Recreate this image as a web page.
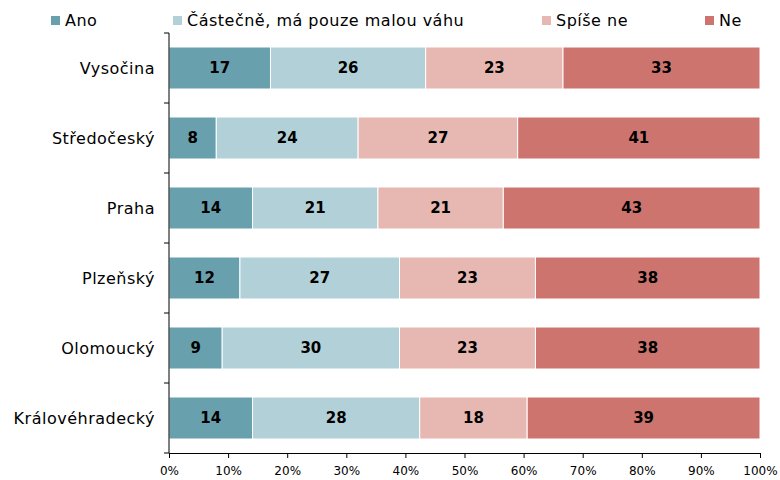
<!DOCTYPE html>
<html>
<head>
<meta charset="utf-8">
<script src="https://cdn.jsdelivr.net/npm/d3@7"></script>
<style>
	body { margin: 0; background: #fff; }
	svg text { font-family: "DejaVu Sans", Verdana, sans-serif; fill: #000; }
	.axis path, .axis line { stroke: #000; }
	.label { font-size: 16px; letter-spacing: 0.5px; }
</style>
</head>
<body>
<script>
const regions = ["Vysočina", "Středočeský", "Praha", "Plzeňský", "Olomoucký", "Královéhradecký"];
const answers = ["Ano", "Částečně, má pouze malou váhu", "Spíše ne", "Ne"];
const ano = [17, 8, 14, 12, 9, 14];
const castecne = [26, 24, 21, 27, 30, 28];
const spiseNe = [23, 27, 21, 23, 23, 18];
const ne = [33, 41, 43, 38, 38, 39];
const xTicks = [0, 0.1, 0.2, 0.3, 0.4, 0.5, 0.6, 0.7, 0.8, 0.9, 1];

const width = 780;
const height = 480;
const margin = { left: 169, right: 20, top: 33, bottom: 27 };

const series = [ano, castecne, spiseNe, ne];
const rows = regions.map((region, i) => {
	const row = { region };
	answers.forEach((a, j) => (row[a] = series[j][i]));
	return row;
});

const svg = d3
	.select("body")
	.append("svg")
	.attr("width", width)
	.attr("height", height);

const x = d3
	.scaleLinear()
	.domain([0, 1])
	.range([margin.left, width - margin.right]);

const y = d3
	.scaleBand()
	.domain(regions)
	.range([margin.top, height - margin.bottom])
	.paddingInner(0.4)
	.paddingOuter(0.2);

const color = d3
	.scaleOrdinal()
	.domain(answers)
	.range(["#68a0ad", "#b1d0d7", "#e7b7b1", "#cd746f"]);

// percent stacked, each row sums to 100%
const stacked = d3.stack().keys(answers).offset(d3.stackOffsetExpand)(rows);

const layers = svg
	.append("g")
	.selectAll("g")
	.data(stacked)
	.join("g")
	.attr("fill", (d) => color(d.key));

layers
	.selectAll("rect")
	.data((d) => d)
	.join("rect")
	.attr("x", (d) => x(d[0]))
	.attr("y", (d) => y(d.data.region))
	.attr("width", (d) => x(d[1]) - x(d[0]))
	.attr("height", y.bandwidth())
	.attr("stroke", "#fff")
	.attr("stroke-width", 1);

layers
	.selectAll("text")
	.data((d) => d.map((v) => ({ v, key: d.key })))
	.join("text")
	.attr("x", (d) => (x(d.v[0]) + x(d.v[1])) / 2)
	.attr("y", (d) => y(d.v.data.region) + y.bandwidth() / 2)
	.attr("dy", "0.36em")
	.attr("text-anchor", "middle")
	.style("font-size", "15px")
	.style("font-weight", "bold")
	.text((d) => d.v.data[d.key]);

// y axis with ticks on band boundaries
const yAxis = svg
	.append("g")
	.attr("class", "axis")
	.attr("transform", `translate(${margin.left},0)`);

yAxis
	.append("line")
	.attr("y1", margin.top)
	.attr("y2", height - margin.bottom);

yAxis
	.selectAll(".tick")
	.data(d3.range(regions.length + 1))
	.join("line")
	.attr("x1", -5)
	.attr("x2", 0)
	.attr("y1", (i) => margin.top + i * y.step())
	.attr("y2", (i) => margin.top + i * y.step());

yAxis
	.selectAll("text")
	.data(regions)
	.join("text")
	.attr("class", "label")
	.attr("x", -14)
	.attr("y", (d) => y(d) + y.bandwidth() / 2)
	.attr("dy", "0.36em")
	.attr("text-anchor", "end")
	.text((d) => d);

svg
	.append("g")
	.attr("class", "axis")
	.attr("transform", `translate(0,${height - margin.bottom})`)
	.call(
		d3
			.axisBottom(x)
			.tickValues(xTicks)
			.tickFormat(d3.format(".0%"))
			.tickSize(5)
			.tickSizeOuter(0)
	)
	.call((g) => g.selectAll("text").style("font-size", "12px").attr("dy", "1.2em"));

// legend
const legendX = [51, 173, 542, 705];
const legend = svg
	.append("g")
	.selectAll("g")
	.data(answers)
	.join("g")
	.attr("transform", (d, i) => `translate(${legendX[i]},16)`);

legend
	.append("rect")
	.attr("width", 9)
	.attr("height", 9)
	.attr("fill", (d) => color(d));

legend
	.append("text")
	.attr("class", "label")
	.attr("x", 14)
	.attr("y", 10)
	.text((d) => d);
</script>
</body>
</html>
